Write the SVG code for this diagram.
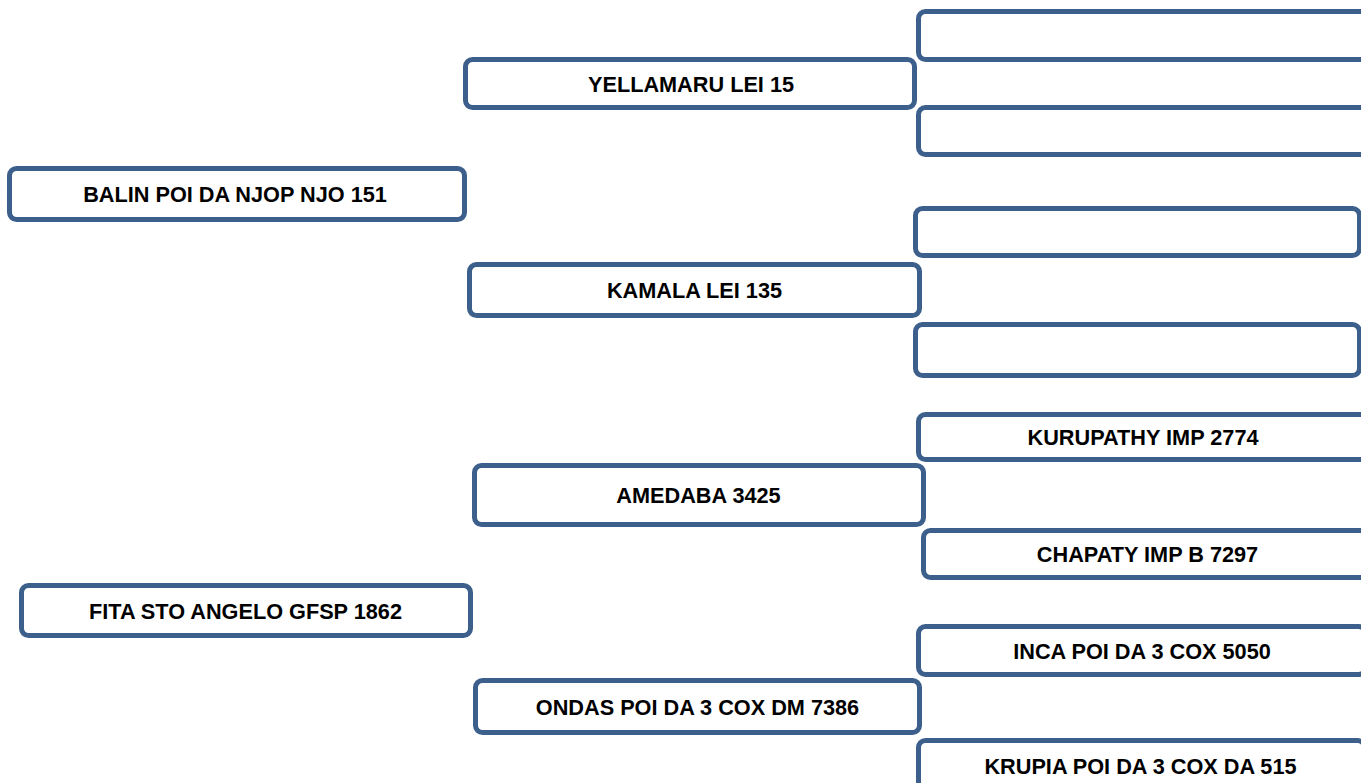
<svg xmlns="http://www.w3.org/2000/svg" width="1361" height="783" viewBox="0 0 1361 783">
<style>
.box{fill:#ffffff;stroke:#3c5f8c;stroke-width:5}
.lbl{font-family:"Liberation Sans",Arial,sans-serif;font-weight:bold;font-size:21.7px;fill:#000000;text-anchor:middle}
</style>
<rect x="0" y="0" width="1361" height="783" fill="#ffffff"/>
<g id="connectors"></g>
<g id="n-balin"><rect class="box" x="9.5" y="168.5" width="455" height="51" rx="7"/><text class="lbl" x="235" y="202">BALIN POI DA NJOP NJO 151</text></g>
<g id="n-fita"><rect class="box" x="21.5" y="585.5" width="449" height="50" rx="7"/><text class="lbl" x="245.5" y="618.5">FITA STO ANGELO GFSP 1862</text></g>
<g id="n-yellamaru"><rect class="box" x="465.5" y="59.5" width="449" height="48" rx="7"/><text class="lbl" x="691" y="91.5">YELLAMARU LEI 15</text></g>
<g id="n-kamala"><rect class="box" x="469.5" y="264.5" width="450" height="51" rx="7"/><text class="lbl" x="694.5" y="298">KAMALA LEI 135</text></g>
<g id="n-amedaba"><rect class="box" x="474.5" y="465.5" width="449" height="59" rx="7"/><text class="lbl" x="698.5" y="503">AMEDABA 3425</text></g>
<g id="n-ondas"><rect class="box" x="475.5" y="680.5" width="444" height="52" rx="7"/><text class="lbl" x="697.5" y="714.5">ONDAS POI DA 3 COX DM 7386</text></g>
<g id="n-r1"><rect class="box" x="918.5" y="11.5" width="449" height="48" rx="7"/></g>
<g id="n-r2"><rect class="box" x="918.5" y="107.5" width="449" height="47" rx="7"/></g>
<g id="n-r3"><rect class="box" x="915.5" y="208.5" width="444" height="47" rx="7"/></g>
<g id="n-r4"><rect class="box" x="915.5" y="324.5" width="444" height="51" rx="7"/></g>
<g id="n-kurupathy"><rect class="box" x="918.5" y="414.5" width="449" height="45" rx="7"/><text class="lbl" x="1143" y="445">KURUPATHY IMP 2774</text></g>
<g id="n-chapaty"><rect class="box" x="923.5" y="530.5" width="448" height="47" rx="7"/><text class="lbl" x="1147.5" y="562">CHAPATY IMP B 7297</text></g>
<g id="n-inca"><rect class="box" x="918.5" y="626.5" width="447" height="48" rx="7"/><text class="lbl" x="1142" y="658.5">INCA POI DA 3 COX 5050</text></g>
<g id="n-krupia"><rect class="box" x="918.5" y="740.5" width="446" height="52" rx="7"/><text class="lbl" x="1140.5" y="774">KRUPIA POI DA 3 COX DA 515</text></g>
</svg>
